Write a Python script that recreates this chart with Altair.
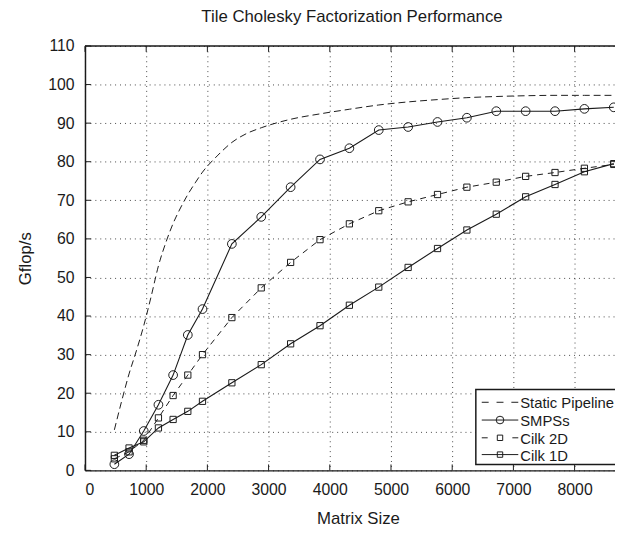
import altair as alt
import pandas as pd

# ---- data ----
sizes = [480, 720, 960, 1200, 1440, 1680, 1920, 2400, 2880, 3360, 3840,
         4320, 4800, 5280, 5760, 6240, 6720, 7200, 7680, 8160, 8640]
smpss = [1.6, 4.2, 10.2, 17.0, 24.7, 35.1, 41.8, 58.7, 65.7, 73.4, 80.6,
         83.5, 88.2, 89.0, 90.3, 91.4, 93.1, 93.1, 93.1, 93.7, 94.1]
cilk2d = [3.0, 4.8, 7.8, 13.6, 19.4, 24.7, 30.0, 39.6, 47.3, 53.9, 59.8,
          63.9, 67.3, 69.6, 71.5, 73.4, 74.7, 76.2, 77.2, 78.3, 79.3]
cilk1d = [3.9, 5.8, 7.4, 11.0, 13.2, 15.3, 17.9, 22.7, 27.4, 32.8, 37.5,
          42.8, 47.5, 52.6, 57.5, 62.3, 66.4, 70.9, 74.1, 77.4, 79.5]

static_sizes = [480, 600, 720, 840, 960, 1080, 1200, 1320, 1440, 1560, 1680,
                1800, 1920, 2160, 2400, 2640, 2880, 3360, 3840, 4320, 4800,
                5280, 5760, 6240, 6720, 7200, 7680, 8160, 8640]
static = [10.5, 18.0, 25.0, 31.0, 37.5, 45.0, 53.0, 59.0, 64.0, 68.0, 71.5,
          74.5, 77.3, 81.5, 85.0, 87.3, 88.8, 91.0, 92.4, 93.6, 94.7,
          95.5, 96.1, 96.6, 96.9, 97.1, 97.2, 97.2, 97.2]

series_names = ["Static Pipeline", "SMPSs", "Cilk 2D", "Cilk 1D"]
x_ticks = [0, 1000, 2000, 3000, 4000, 5000, 6000, 7000, 8000]
y_ticks = [0, 10, 20, 30, 40, 50, 60, 70, 80, 90, 100, 110]
title_text = "Tile Cholesky Factorization Performance"

# ---- tables ----
df_static = pd.DataFrame({"size": static_sizes, "gflops": static})
df_smpss = pd.DataFrame({"size": sizes, "gflops": smpss})
df_c2 = pd.DataFrame({"size": sizes, "gflops": cilk2d})
df_c1 = pd.DataFrame({"size": sizes, "gflops": cilk1d})
df_xt = pd.DataFrame({"v": x_ticks})
df_yt = pd.DataFrame({"v": y_ticks})

W, H = 537, 430
FONT = "Liberation Sans"
INK = "#1a1a1a"

xs = alt.Scale(domain=[0, 8660], nice=False, zero=False)
ys = alt.Scale(domain=[0, 110], nice=False)

x_axis = alt.Axis(values=x_ticks, format="d", titleX=W / 2 + 8, titleY=49,
                  titleBaseline="middle", titleAlign="center", labelOverlap=False)
y_axis = alt.Axis(values=y_ticks, format="d", titleX=-60, titleY=H / 2,
                  titleBaseline="middle", titleAlign="center", titleAngle=-90,
                  labelOverlap=False)


def X(field="size"):
    return alt.X(f"{field}:Q", scale=xs, title="Matrix Size", axis=x_axis)


def Y(field="gflops"):
    return alt.Y(f"{field}:Q", scale=ys, title="Gflop/s", axis=y_axis)


line_static = alt.Chart(df_static).mark_line(
    color=INK, strokeWidth=1, strokeDash=[7, 4], interpolate="monotone"
).encode(x=X(), y=Y())

line_smpss = alt.Chart(df_smpss).mark_line(color=INK, strokeWidth=1.1).encode(x=X(), y=Y())
pt_smpss = alt.Chart(df_smpss).mark_point(
    shape="circle", size=78, filled=False, color=INK, strokeWidth=1, opacity=1
).encode(x=X(), y=Y())

line_c2 = alt.Chart(df_c2).mark_line(color=INK, strokeWidth=1, strokeDash=[6, 5]).encode(x=X(), y=Y())
pt_c2 = alt.Chart(df_c2).mark_point(
    shape="square", size=40, filled=False, color=INK, strokeWidth=1, opacity=1
).encode(x=X(), y=Y())

line_c1 = alt.Chart(df_c1).mark_line(color=INK, strokeWidth=1.1).encode(x=X(), y=Y())
pt_c1 = alt.Chart(df_c1).mark_point(
    shape="square", size=40, filled=False, color=INK, strokeWidth=1, opacity=1
).encode(x=X(), y=Y())

# inward ticks and top frame line
tick_left = alt.Chart(df_yt).mark_rule(color=INK, strokeWidth=1).encode(
    y=Y("v"), x=alt.value(0), x2=alt.value(6))
tick_bottom = alt.Chart(df_xt).mark_rule(color=INK, strokeWidth=1).encode(
    x=X("v"), y=alt.value(H), y2=alt.value(H - 6))
tick_top = alt.Chart(df_xt).mark_rule(color=INK, strokeWidth=1).encode(
    x=X("v"), y=alt.value(0), y2=alt.value(6))
top_line = alt.Chart(pd.DataFrame({"a": [0]})).mark_rule(color=INK, strokeWidth=1.5).encode(
    x=alt.value(0), x2=alt.value(W), y=alt.value(0))

# title as a text mark above the plot
title_mark = alt.Chart(pd.DataFrame({"t": [title_text]})).mark_text(
    font=FONT, fontSize=17, color=INK, align="center", baseline="middle"
).encode(x=alt.value(W / 2 + 2), y=alt.value(-29), text="t:N")

# legend (drawn by hand to show line + marker samples)
LX0 = 396
legend_box = alt.Chart(pd.DataFrame({"a": [0]})).mark_rect(
    fill="white", stroke=INK, strokeWidth=1.5
).encode(x=alt.value(LX0), x2=alt.value(W + 20), y=alt.value(348), y2=alt.value(424))

row_y = [361, 379, 397, 414]
legend_layers = [legend_box]
dashes = [[7, 8], None, [6, 25], None]
shapes = [None, "circle", "square", "square"]
msizes = [0, 60, 30, 30]
for name, yy, dsh, shp, ms in zip(series_names, row_y, dashes, shapes, msizes):
    d = pd.DataFrame({"name": [name]})
    kw = dict(color=INK, strokeWidth=1)
    if dsh:
        kw["strokeDash"] = dsh
    legend_layers.append(alt.Chart(d).mark_rule(**kw).encode(
        x=alt.value(402), x2=alt.value(439), y=alt.value(yy)))
    if shp:
        legend_layers.append(alt.Chart(d).mark_point(
            shape=shp, size=ms, filled=False, color=INK, strokeWidth=1, opacity=1
        ).encode(x=alt.value(420.5), y=alt.value(yy)))
    legend_layers.append(alt.Chart(d).mark_text(
        align="left", baseline="middle", font=FONT, fontSize=15, color=INK
    ).encode(x=alt.value(441), y=alt.value(yy + 1), text="name:N"))

chart = alt.layer(
    line_static, line_c1, line_c2, line_smpss, pt_c1, pt_c2, pt_smpss,
    tick_left, tick_bottom, tick_top, top_line, title_mark, *legend_layers
).properties(
    width=W, height=H,
    autosize=alt.AutoSizeParams(type="none"),
    padding={"left": 78, "top": 35, "right": 0, "bottom": 61},
).configure_view(stroke=None).configure_axis(
    labelFont=FONT, titleFont=FONT, labelFontSize=16, titleFontSize=17,
    labelColor=INK, titleColor=INK, titleFontWeight="normal",
    domainColor=INK, domainWidth=1.5, ticks=False, tickSize=0,
    grid=True, gridColor="#333333", gridDash=[1, 4], gridWidth=1, gridOpacity=0.9,
    labelPadding=11,
)

chart.save("out.html", embed_options={"renderer": "svg", "actions": False})
